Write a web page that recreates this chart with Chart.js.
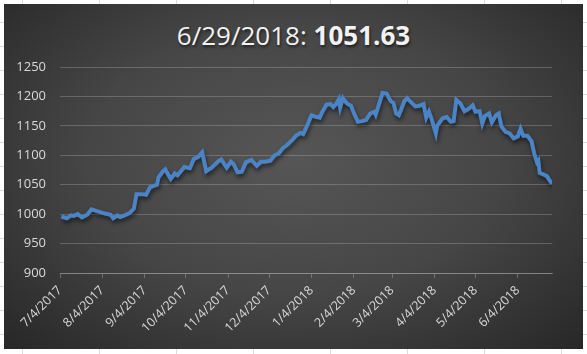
<!DOCTYPE html>
<html>
<head>
<meta charset="utf-8">
<script src="https://cdn.jsdelivr.net/npm/chart.js@4"></script>
<style>
    html, body { margin: 0; padding: 0; }
    body {
        width: 587px; height: 354px; overflow: hidden; background-color: #fff;
        background-image: linear-gradient(to right, #dadada 1px, transparent 1px),
                          linear-gradient(to bottom, #dadada 1px, transparent 1px);
        background-size: 77px 24px;
        background-position: 22px 22px;
    }
    #box {
        position: absolute; left: 4px; top: 4px; width: 579px; height: 345px;
        background: radial-gradient(ellipse at 50% 45%, #565656 0%, #464646 50%, #272727 100%);
    }
    #title {
        position: absolute; left: 0; right: 0; top: 13px; text-align: center;
        font-family: "Open Sans", sans-serif; font-size: 26px; color: #f2f2f2;
        text-shadow: 1px 2px 3px rgba(0,0,0,0.6);
    }
    #title b { font-weight: 700; }
    #wrap { position: absolute; left: 0; top: 0; width: 579px; height: 345px; }
</style>
</head>
<body>
<div id="box">
    <div id="title">6/29/2018: <b>1051.63</b></div>
    <div id="wrap"><canvas id="priceChart"></canvas></div>
</div>
<script>
const dates = [
    '2017-07-05', '2017-07-09', '2017-07-12', '2017-07-14', '2017-07-17', '2017-07-20', '2017-07-24', '2017-07-27', '2017-07-31',
    '2017-08-03', '2017-08-06', '2017-08-10', '2017-08-12', '2017-08-15', '2017-08-17', '2017-08-21', '2017-08-24', '2017-08-27', '2017-08-29',
    '2017-09-02', '2017-09-05', '2017-09-08', '2017-09-13', '2017-09-14', '2017-09-17', '2017-09-19', '2017-09-23', '2017-09-26', '2017-09-28',
    '2017-10-03', '2017-10-07', '2017-10-10', '2017-10-13', '2017-10-16', '2017-10-19', '2017-10-23', '2017-10-28', '2017-10-30',
    '2017-11-03', '2017-11-06', '2017-11-08', '2017-11-11', '2017-11-14', '2017-11-17', '2017-11-21', '2017-11-25', '2017-11-28',
    '2017-12-01', '2017-12-05', '2017-12-08', '2017-12-11', '2017-12-14', '2017-12-17', '2017-12-21', '2017-12-24', '2017-12-27', '2017-12-29', '2017-12-31',
    '2018-01-04', '2018-01-08', '2018-01-10', '2018-01-12', '2018-01-15', '2018-01-18', '2018-01-20', '2018-01-22', '2018-01-24', '2018-01-25', '2018-01-27', '2018-01-30',
    '2018-02-02', '2018-02-04', '2018-02-07', '2018-02-10', '2018-02-13', '2018-02-16', '2018-02-19', '2018-02-20', '2018-02-23', '2018-02-25', '2018-02-28',
    '2018-03-03', '2018-03-05', '2018-03-07', '2018-03-09', '2018-03-13', '2018-03-15', '2018-03-18', '2018-03-21', '2018-03-24', '2018-03-27', '2018-03-29', '2018-03-31',
    '2018-04-02', '2018-04-05', '2018-04-06', '2018-04-10', '2018-04-13', '2018-04-16', '2018-04-18', '2018-04-20', '2018-04-23', '2018-04-26', '2018-04-29',
    '2018-05-02', '2018-05-04', '2018-05-07', '2018-05-09', '2018-05-11', '2018-05-14', '2018-05-16', '2018-05-19', '2018-05-21', '2018-05-23', '2018-05-26', '2018-05-29',
    '2018-06-01', '2018-06-04', '2018-06-06', '2018-06-08', '2018-06-11', '2018-06-14', '2018-06-16', '2018-06-18', '2018-06-19', '2018-06-20', '2018-06-23', '2018-06-25', '2018-06-26', '2018-06-27', '2018-06-29'
];
const closes = [
    996, 993, 998, 997, 1000, 994.5, 999, 1008, 1005,
    1003, 1001, 999, 993, 998, 995, 998.5, 1002, 1009, 1034,
    1034, 1033, 1046, 1050, 1062, 1072, 1076, 1060, 1069, 1066,
    1080, 1078, 1094, 1097, 1105, 1073, 1079, 1090, 1093,
    1079, 1089, 1085, 1071, 1072, 1088, 1092, 1082, 1089,
    1089, 1091, 1100, 1103, 1112, 1117, 1126, 1134, 1138, 1136, 1146,
    1168, 1165, 1164, 1174, 1186, 1187, 1182, 1187, 1195, 1181, 1197, 1188,
    1184, 1172, 1157, 1158, 1160, 1171, 1174, 1169, 1191, 1206, 1205,
    1192, 1189, 1171, 1168, 1192, 1197, 1190, 1183, 1184, 1187, 1164, 1174,
    1161, 1137, 1150, 1163, 1165, 1157, 1158, 1194, 1188, 1175, 1179,
    1185, 1174, 1175, 1154, 1167, 1171, 1156, 1168, 1171, 1149, 1140, 1137,
    1129, 1132, 1145, 1133, 1133, 1124, 1103, 1088, 1091, 1070, 1067, 1065, 1062, 1058, 1051.63
];
const tickDates = ['2017-07-04', '2017-08-04', '2017-09-04', '2017-10-04', '2017-11-04', '2017-12-04',
    '2018-01-04', '2018-02-04', '2018-03-04', '2018-04-04', '2018-05-04', '2018-06-04'];
const tickLabels = ['7/4/2017', '8/4/2017', '9/4/2017', '10/4/2017', '11/4/2017', '12/4/2017',
    '1/4/2018', '2/4/2018', '3/4/2018', '4/4/2018', '5/4/2018', '6/4/2018'];
const firstDay = '2017-07-04';
const lastDay = '2018-06-29';

// days since the first axis date (no date adapter, so a plain linear axis)
function dayOf(s) {
    const p = s.split('-').map(Number);
    const q = firstDay.split('-').map(Number);
    return (Date.UTC(p[0], p[1] - 1, p[2]) - Date.UTC(q[0], q[1] - 1, q[2])) / 86400000;
}

const points = dates.map((d, i) => ({ x: dayOf(d), y: closes[i] }));

// Excel-like soft shadow under the line
const lineShadow = {
    id: 'lineShadow',
    beforeDatasetDraw(chart) {
        const c = chart.ctx;
        c.save();
        c.shadowColor = 'rgba(0,0,0,0.55)';
        c.shadowBlur = 4;
        c.shadowOffsetX = 1;
        c.shadowOffsetY = 3;
    },
    afterDatasetDraw(chart) {
        chart.ctx.restore();
    }
};

const tickColor = '#d9d9d9';
const lineGrey = 'rgba(200,200,200,0.28)';

new Chart(document.getElementById('priceChart').getContext('2d'), {
    type: 'line',
    data: {
        datasets: [{
            data: points,
            borderColor: '#4a84c6',
            borderWidth: 4,
            pointRadius: 0,
            tension: 0,
            fill: false
        }]
    },
    options: {
        responsive: true,
        maintainAspectRatio: false,
        animation: false,
        layout: { padding: { top: 63, right: 31, left: 0, bottom: 0 } },
        plugins: {
            legend: { display: false },
            tooltip: { enabled: false }
        },
        scales: {
            x: {
                type: 'linear',
                min: 0,
                max: dayOf(lastDay),
                afterBuildTicks: s => { s.ticks = tickDates.map(d => ({ value: dayOf(d) })); },
                afterFit: s => { s.height = 76; },
                ticks: {
                    autoSkip: false,
                    minRotation: 45,
                    maxRotation: 45,
                    padding: 5,
                    color: tickColor,
                    font: { family: 'Open Sans', size: 12.5 },
                    callback: (v, i) => tickLabels[i]
                },
                grid: { drawOnChartArea: false, drawTicks: true, tickLength: 5, color: 'rgba(200,200,200,0.35)' },
                border: { color: 'rgba(200,200,200,0.35)' }
            },
            y: {
                min: 900,
                max: 1250,
                afterFit: s => { s.width = 56; },
                ticks: {
                    stepSize: 50,
                    padding: 14,
                    color: tickColor,
                    font: { family: 'Open Sans', size: 13 },
                    callback: v => String(v)
                },
                grid: { color: lineGrey, drawTicks: false },
                border: { display: false }
            }
        }
    },
    plugins: [lineShadow]
});
</script>
</body>
</html>
